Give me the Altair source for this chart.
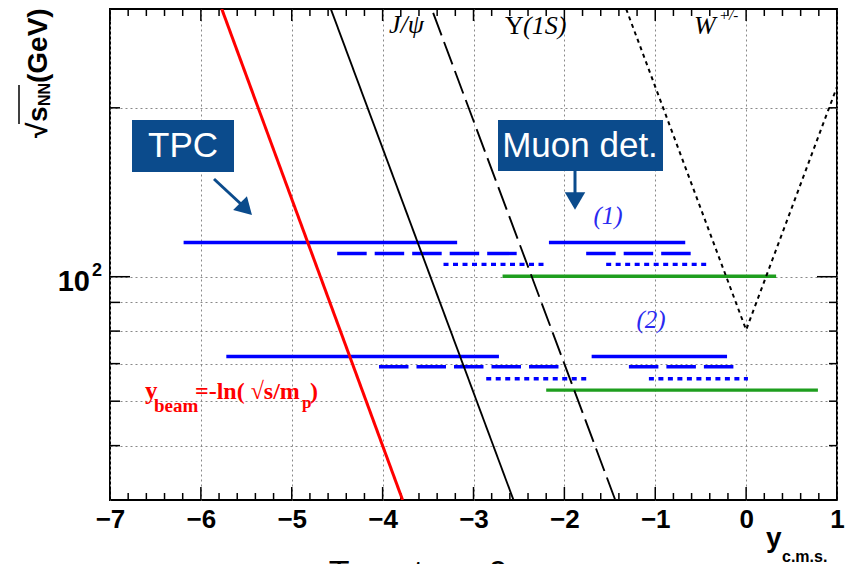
import altair as alt
import pandas as pd

# ---------------- data ----------------
# kinematic lines: x = rapidity, y = sqrt(s_NN) [GeV]
beam_x = [-3.78, -5.77]
beam_y = [40, 300]
jpsi_x = [-2.56, -4.57]
jpsi_y = [40, 300]
ups_x = [-1.44, -3.46]
ups_y = [40, 300]
w_x = [-1.32, 0.0, 1.0]
w_y = [300, 80.4, 218]

# acceptance segments: style, sqrt(s) level, x start, x end
seg_style = ["solid", "solid", "dashed", "dashed", "dotted", "dotted", "green",
             "solid", "solid", "dashed", "dashed", "dotted", "dotted", "green"]
seg_level = [115.1, 115.1, 110.0, 110.0, 105.2, 105.2, 100.2,
             72.1, 72.1, 69.1, 69.1, 65.8, 65.8, 62.8]
seg_x0 = [-6.19, -2.17, -4.50, -1.76, -3.33, -1.54, -2.68,
          -5.72, -1.70, -4.04, -1.29, -2.86, -1.07, -2.20]
seg_x1 = [-3.18, -0.67, -2.52, -0.60, -2.18, -0.43, 0.33,
          -2.72, -0.21, -2.06, -0.13, -1.72, 0.02, 0.79]

x_major = list(range(-7, 2))
x_minor = [round(-7 + 0.2 * i, 1) for i in range(41) if (i % 5) != 0]
y_minor = [50, 60, 70, 80, 90, 200]
y_major = [100]

# ---------------- helpers ----------------
W, H = 727, 491
xs = alt.Scale(domain=[-7, 1], nice=False, zero=False)
ys = alt.Scale(type="log", domain=[40, 300], nice=False)
xaxis = alt.Axis(values=x_major, ticks=False, domain=False, title=None,
                 labelFont="Liberation Sans", labelFontWeight="bold", labelFontSize=26,
                 labelColor="black", labelPadding=6, labelBaseline="top", labelFlush=False,
                 grid=True, gridColor="#888888", gridDash=[2, 3], gridWidth=1)
yaxis = alt.Axis(values=y_minor + y_major, ticks=False, domain=False, title=None,
                 labels=False, grid=True, gridColor="#888888", gridDash=[2, 3], gridWidth=1)

dummy = pd.DataFrame({"k": [0]})


def curve(xv, yv, color, width, dash=None):
    df = pd.DataFrame({"x": xv, "y": yv, "o": list(range(len(xv)))})
    kw = dict(color=color, strokeWidth=width, clip=True)
    if dash:
        kw["strokeDash"] = dash
    return alt.Chart(df).mark_line(**kw).encode(
        x=alt.X("x:Q", scale=xs, axis=xaxis),
        y=alt.Y("y:Q", scale=ys, axis=yaxis),
        order="o:Q")


def segs(style, color, width, dash=None):
    rows = []
    for i, s in enumerate(seg_style):
        if s == style:
            rows.append({"id": i, "x": seg_x0[i], "y": seg_level[i]})
            rows.append({"id": i, "x": seg_x1[i], "y": seg_level[i]})
    df = pd.DataFrame(rows)
    kw = dict(color=color, strokeWidth=width, clip=True, strokeCap="butt")
    if dash:
        kw["strokeDash"] = dash
    return alt.Chart(df).mark_line(**kw).encode(
        x=alt.X("x:Q", scale=xs, axis=xaxis),
        y=alt.Y("y:Q", scale=ys, axis=yaxis),
        detail="id:N", order="x:Q")


def text(t, x, y, size, color="black", font="Liberation Sans", weight="normal",
         style="normal", align="left", baseline="alphabetic", angle=0):
    return alt.Chart(dummy).mark_text(
        text=t, fontSize=size, color=color, font=font, fontWeight=weight,
        fontStyle=style, align=align, baseline=baseline, angle=angle).encode(
        x=alt.value(x), y=alt.value(y))


def box(x0, x1, y0, y1, color):
    return alt.Chart(dummy).mark_rect(color=color).encode(
        x=alt.value(x0), x2=alt.value(x1), y=alt.value(y0), y2=alt.value(y1))


def seg_px(x0, y0, x1, y1, color, width):
    return alt.Chart(dummy).mark_rule(color=color, strokeWidth=width).encode(
        x=alt.value(x0), y=alt.value(y0), x2=alt.value(x1), y2=alt.value(y1))


def head(x, y, angle, size, color):
    return alt.Chart(dummy).mark_point(shape="triangle-up", filled=True, opacity=1,
                                       size=size, color=color, angle=angle).encode(
        x=alt.value(x), y=alt.value(y))


def xticks(vals, y0, y1):
    return alt.Chart(pd.DataFrame({"x": vals})).mark_rule(color="black", strokeWidth=1.5).encode(
        x=alt.X("x:Q", scale=xs, axis=xaxis), y=alt.value(y0), y2=alt.value(y1))


def yticks(vals, x0, x1):
    return alt.Chart(pd.DataFrame({"y": vals})).mark_rule(color="black", strokeWidth=1.5).encode(
        y=alt.Y("y:Q", scale=ys, axis=yaxis), x=alt.value(x0), x2=alt.value(x1))


BOX = "#0b4b8c"
BLUE = "#0000ff"
GREEN = "#1e9e1e"
RED = "#ff0000"

layers = [
    # inward ticks
    xticks(x_major, H, H - 13), xticks(x_minor, H, H - 7),
    xticks(x_major, 0, 12), xticks(x_minor, 0, 7),
    yticks(y_major, 0, 20), yticks(y_minor, 0, 10),
    yticks(y_major, W, W - 20), yticks(y_minor, W, W - 8),
    # acceptance segments
    segs("green", GREEN, 3.4),
    segs("solid", BLUE, 3.4),
    segs("dashed", BLUE, 3.4, [29.5, 8]),
    segs("dotted", BLUE, 3.4, [5, 4.5]),
    # kinematic lines
    curve(beam_x, beam_y, RED, 3),
    curve(jpsi_x, jpsi_y, "black", 1.9),
    curve(ups_x, ups_y, "black", 1.9, [24, 7]),
    curve(w_x, w_y, "black", 2, [4, 4]),
    # particle labels
    text("J/ψ", 279, 24, 26, font="Liberation Serif", style="italic"),
    text("Υ", 395, 25, 26, font="Liberation Serif"),
    text("(1S)", 413, 25, 26, font="Liberation Serif", style="italic"),
    text("W", 584, 25, 26, font="Liberation Serif", style="italic"),
    text("+/-", 609, 11, 15, font="Liberation Serif", style="italic"),
    # detector boxes
    box(22, 124, 111, 163, BOX),
    text("TPC", 73, 137, 35, color="white", align="center", baseline="middle"),
    seg_px(104, 170, 132, 196, BOX, 3),
    head(136, 200, 135, 380, BOX),
    box(388, 553, 111, 162, BOX),
    text("Muon det.", 470, 137, 35, color="white", align="center", baseline="middle"),
    seg_px(465, 162, 465, 186, BOX, 3),
    head(465, 192, 180, 420, BOX),
    # group labels
    text("(1)", 498, 215, 25, color="#2a2af0", font="Liberation Serif", style="italic", align="center"),
    text("(2)", 541, 319, 25, color="#2a2af0", font="Liberation Serif", style="italic", align="center"),
    # y_beam formula
    text("y", 35, 390, 25, color=RED, font="Liberation Serif", weight="bold"),
    text("beam", 44, 403, 19, color=RED, font="Liberation Serif", weight="bold"),
    text("=-ln( √s/m", 85, 390, 24, color=RED, font="Liberation Serif", weight="bold"),
    text("p", 192, 399, 17, color=RED, font="Liberation Serif", weight="bold"),
    text(")", 200, 390, 24, color=RED, font="Liberation Serif", weight="bold"),
    # y-axis label 10^2
    text("10", -20, 282, 29, weight="bold", align="right"),
    text("2", -18, 267, 18, weight="bold"),
    # y-axis title (rotated)
    text("√", -63, 129, 28, weight="bold", angle=270),
    text("s", -63, 113, 28, weight="bold", angle=270),
    text("NN", -60, 97, 16, weight="bold", angle=270),
    text("(GeV)", -63, 74, 28, weight="bold", angle=270),
    seg_px(-91, 76, -91, 115, "black", 1.5),
    # x-axis title
    text("y", 656, 538, 28, weight="bold"),
    text("c.m.s.", 672, 553, 16, weight="bold"),
    # cut-off caption at the bottom
    text("Target z = 0", 308, 548, 34, align="center", baseline="top"),
]

chart = alt.layer(*layers).properties(
    width=W, height=H,
    autosize=alt.AutoSizeParams(type="none"),
    padding={"left": 102, "top": 1, "right": 8, "bottom": 78},
    background="white",
).configure_view(stroke="black", strokeWidth=2)

chart.save("out.html", embed_options={"renderer": "svg", "actions": False})
